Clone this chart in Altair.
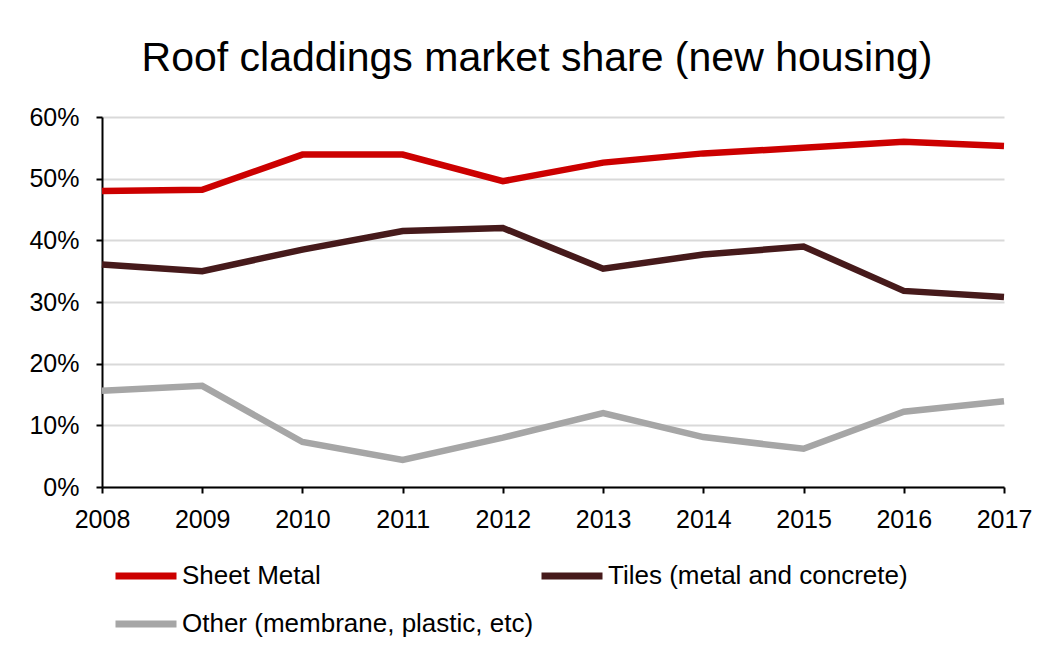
import altair as alt
import pandas as pd

years = [2008, 2009, 2010, 2011, 2012, 2013, 2014, 2015, 2016, 2017]
sheet_metal = [48.0, 48.2, 53.9, 53.9, 49.6, 52.6, 54.1, 55.0, 56.0, 55.3]
tiles = [36.1, 35.0, 38.5, 41.5, 42.0, 35.4, 37.7, 39.0, 31.8, 30.8]
other = [15.6, 16.4, 7.3, 4.4, 8.0, 12.0, 8.1, 6.2, 12.2, 13.9]
series_names = ["Sheet Metal", "Tiles (metal and concrete)", "Other (membrane, plastic, etc)"]
series_colors = ["#cc0000", "#461a1b", "#a6a6a6"]
y_ticks = [0.0, 0.1, 0.2, 0.3, 0.4, 0.5, 0.6]

rows = []
for name, vals in zip(series_names, [sheet_metal, tiles, other]):
    for yr, v in zip(years, vals):
        rows.append({"year": yr, "series": name, "share": v / 100.0})
df = pd.DataFrame(rows)

FONT = "Liberation Sans"

chart = alt.Chart(df).mark_line(strokeWidth=6.5).encode(
    x=alt.X(
        "year:Q",
        scale=alt.Scale(domain=[2008, 2017], nice=False, zero=False),
        axis=alt.Axis(
            values=years, format="d", title=None, grid=False,
            labelFontSize=25, labelFont=FONT, labelColor="black",
            tickSize=6, tickWidth=2, tickColor="black",
            domainColor="black", domainWidth=2, labelPadding=14,
            labelFlush=False,
        ),
    ),
    y=alt.Y(
        "share:Q",
        scale=alt.Scale(domain=[0, 0.6], nice=False),
        axis=alt.Axis(
            values=y_ticks, format=".0%", title=None, grid=True,
            gridColor="#d9d9d9", gridWidth=2,
            labelFontSize=25, labelFont=FONT, labelColor="black",
            tickSize=6, tickWidth=2, tickColor="black",
            domainColor="black", domainWidth=2, labelPadding=17,
        ),
    ),
    color=alt.Color(
        "series:N",
        scale=alt.Scale(domain=series_names, range=series_colors),
        legend=alt.Legend(
            title=None, orient="none", legendX=10, legendY=425,
            direction="horizontal",
            columns=2, symbolType="stroke", symbolSize=3721,
            symbolStrokeWidth=7, labelFontSize=26, labelFont=FONT,
            labelColor="black", labelOffset=2, columnPadding=-7,
            rowPadding=-13, padding=0, labelLimit=0,
        ),
    ),
).properties(
    width=902,
    height=370,
    autosize=alt.AutoSizeParams(type="none"),
    padding={"left": 94, "top": 109, "right": 40, "bottom": 150},
    title=alt.TitleParams(
        "Roof claddings market share (new housing)",
        fontSize=41, font=FONT, fontWeight="normal", color="black",
        anchor="middle", dx=-16, dy=52, offset=45, baseline="alphabetic",
        frame="group",
    ),
).configure_view(stroke=None)

chart.save("out.html", embed_options={"renderer": "svg", "actions": False})
